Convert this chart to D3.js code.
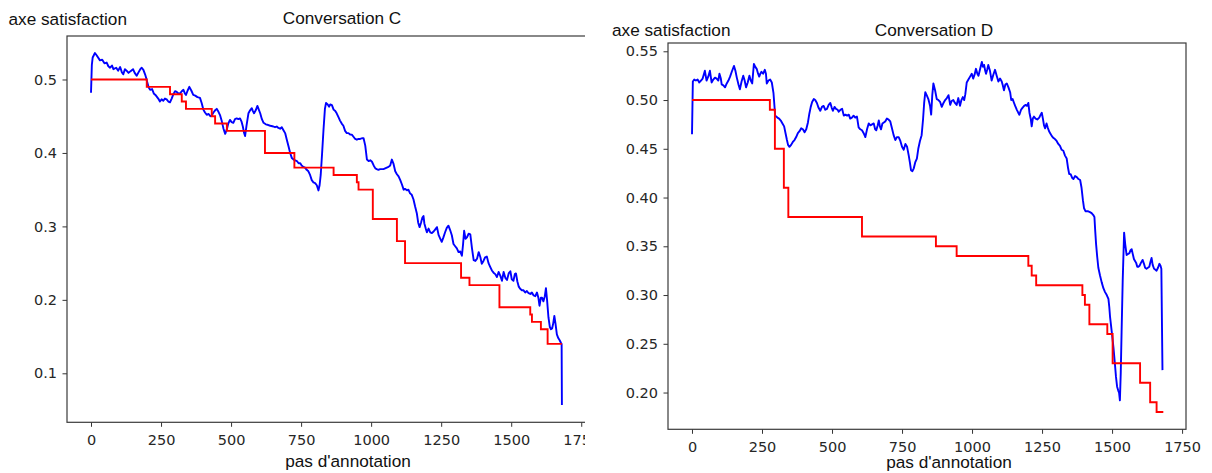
<!DOCTYPE html>
<html>
<head>
<meta charset="utf-8">
<script src="https://cdn.jsdelivr.net/npm/d3@7"></script>
<style>
  html, body { margin: 0; padding: 0; background: #fff; }
  svg { display: block; }
</style>
</head>
<body>
<svg id="chart" width="1212" height="473"></svg>
<script>
// ---------- data ----------
const xTickValues = [0, 250, 500, 750, 1000, 1250, 1500, 1750];
const yTicksC = [0.1, 0.2, 0.3, 0.4, 0.5];
const yTicksD = [0.20, 0.25, 0.30, 0.35, 0.40, 0.45, 0.50, 0.55];

const titleC = "Conversation C";
const titleD = "Conversation D";
const yLabel = "axe satisfaction";
const xLabel = "pas d'annotation";

// Conversation C - blue (satisfaction estimate)
const cBlueX = [0,3,6,14,20,32,40,48,56,62,68,75,80,90,97,104,110,115,121,127,134,140,150,156,163,170,176,181,187,193,197,201,206,211,218,224,230,234,240,246,252,258,264,270,276,282,288,294,300,306,312,318,324,330,335,339,345,351,358,365,372,380,389,395,401,407,413,420,426,431,437,443,449,455,461,467,473,479,484,490,496,502,508,514,520,526,532,537,542,546,550,555,562,568,574,578,582,588,594,600,604,610,616,624,633,640,651,657,663,669,675,681,687,693,699,705,711,717,723,729,735,741,747,752,758,764,770,776,782,788,794,800,806,812,816,820,825,830,835,839,845,850,854,860,866,872,877,883,889,895,901,907,913,919,925,931,937,943,949,955,961,967,973,979,985,991,997,1003,1009,1015,1020,1026,1032,1038,1044,1050,1056,1062,1068,1074,1080,1086,1092,1098,1104,1110,1116,1122,1128,1133,1139,1145,1151,1157,1163,1168,1173,1178,1183,1187,1190,1195,1199,1205,1211,1217,1223,1229,1235,1241,1247,1252,1258,1264,1270,1276,1282,1288,1294,1300,1306,1312,1318,1324,1328,1332,1337,1342,1348,1354,1360,1366,1372,1378,1384,1390,1395,1401,1407,1413,1419,1425,1431,1437,1443,1449,1455,1461,1467,1473,1479,1485,1491,1497,1502,1508,1513,1517,1522,1527,1532,1538,1544,1550,1556,1562,1568,1574,1580,1586,1592,1597,1601,1606,1610,1615,1620,1624,1628,1633,1638,1642,1646,1650,1654,1658,1663,1668,1673,1677,1680,1681];
const cBlueY = [0.482,0.520,0.530,0.536,0.533,0.526,0.527,0.522,0.523,0.518,0.516,0.519,0.514,0.516,0.512,0.517,0.510,0.507,0.514,0.512,0.509,0.511,0.514,0.509,0.505,0.510,0.514,0.516,0.513,0.507,0.502,0.496,0.489,0.486,0.487,0.481,0.479,0.477,0.474,0.470,0.473,0.471,0.474,0.473,0.470,0.469,0.474,0.480,0.484,0.483,0.481,0.481,0.484,0.486,0.481,0.479,0.485,0.490,0.485,0.479,0.478,0.476,0.475,0.468,0.459,0.455,0.452,0.453,0.450,0.451,0.455,0.458,0.460,0.456,0.451,0.443,0.433,0.426,0.431,0.440,0.445,0.442,0.441,0.446,0.447,0.446,0.447,0.443,0.436,0.428,0.423,0.437,0.454,0.458,0.461,0.457,0.454,0.458,0.464,0.458,0.454,0.446,0.441,0.439,0.438,0.437,0.436,0.435,0.436,0.434,0.433,0.435,0.431,0.427,0.418,0.409,0.400,0.393,0.391,0.390,0.389,0.386,0.386,0.383,0.381,0.380,0.377,0.375,0.370,0.363,0.360,0.359,0.356,0.349,0.356,0.370,0.400,0.432,0.460,0.468,0.466,0.463,0.466,0.465,0.459,0.457,0.454,0.449,0.444,0.440,0.437,0.430,0.427,0.427,0.425,0.425,0.422,0.419,0.418,0.419,0.419,0.420,0.420,0.410,0.391,0.389,0.390,0.388,0.383,0.379,0.378,0.377,0.378,0.378,0.378,0.379,0.380,0.381,0.383,0.391,0.385,0.375,0.371,0.368,0.363,0.357,0.350,0.351,0.349,0.350,0.345,0.343,0.337,0.327,0.318,0.305,0.299,0.305,0.312,0.314,0.304,0.297,0.292,0.297,0.292,0.291,0.293,0.296,0.299,0.288,0.283,0.279,0.285,0.292,0.298,0.301,0.295,0.288,0.276,0.273,0.270,0.265,0.266,0.260,0.275,0.294,0.283,0.285,0.290,0.289,0.270,0.254,0.253,0.256,0.265,0.258,0.249,0.253,0.258,0.259,0.250,0.245,0.240,0.237,0.235,0.231,0.238,0.233,0.226,0.238,0.230,0.227,0.236,0.239,0.228,0.226,0.235,0.236,0.225,0.218,0.215,0.213,0.213,0.210,0.212,0.209,0.208,0.210,0.206,0.205,0.210,0.203,0.192,0.203,0.203,0.198,0.205,0.216,0.200,0.176,0.163,0.160,0.161,0.168,0.178,0.168,0.153,0.148,0.145,0.142,0.140,0.057];

// Conversation C - red (annotated steps)
const cRedX = [0,199,282,324,339,431,443,485,621,726,866,949,955,1006,1092,1121,1321,1351,1458,1568,1574,1606,1630,1681];
const cRedY = [0.50,0.49,0.48,0.47,0.46,0.45,0.44,0.43,0.40,0.38,0.37,0.36,0.35,0.31,0.28,0.25,0.23,0.22,0.19,0.18,0.17,0.16,0.14,0.14];

// Conversation D - blue
const dBlueX = [0,3,8,14,20,26,32,38,46,52,58,64,70,76,82,88,94,98,103,106,112,118,124,130,136,142,150,155,160,166,171,177,183,188,193,199,205,210,215,221,226,231,236,240,244,248,254,260,264,267,273,279,285,291,297,305,311,317,323,329,334,339,343,348,354,360,366,372,378,384,390,396,402,408,414,419,424,429,435,440,446,452,458,464,470,476,482,488,494,499,503,509,514,520,524,530,536,542,548,554,560,565,571,577,583,589,595,601,607,613,619,625,631,637,643,649,654,658,663,667,671,675,680,685,690,696,702,708,714,720,726,732,738,744,750,756,762,768,774,778,782,787,792,797,803,808,814,820,825,829,833,838,844,850,854,858,862,868,874,880,886,892,898,904,910,916,922,927,933,939,945,951,957,962,967,972,976,981,987,993,999,1004,1009,1014,1019,1023,1029,1035,1039,1043,1047,1050,1054,1058,1064,1070,1076,1082,1088,1094,1100,1106,1110,1114,1119,1124,1130,1136,1140,1145,1150,1154,1160,1165,1169,1175,1180,1186,1192,1196,1201,1205,1210,1213,1217,1221,1227,1233,1240,1245,1249,1253,1257,1261,1266,1270,1275,1279,1285,1291,1296,1302,1308,1314,1320,1326,1332,1338,1343,1347,1352,1358,1362,1368,1374,1380,1386,1391,1396,1400,1405,1413,1421,1427,1433,1437,1440,1443,1447,1451,1457,1463,1469,1475,1481,1487,1490,1493,1499,1505,1510,1514,1518,1522,1525,1528,1531,1534,1538,1543,1547,1552,1557,1562,1566,1570,1574,1578,1582,1586,1590,1594,1598,1603,1609,1614,1618,1623,1628,1633,1637,1641,1645,1650,1655,1659,1664,1669,1673,1676,1680];
const dBlueY = [0.465,0.519,0.521,0.520,0.521,0.518,0.520,0.522,0.530,0.520,0.524,0.530,0.518,0.521,0.523,0.522,0.520,0.527,0.522,0.516,0.515,0.513,0.517,0.520,0.524,0.529,0.535,0.530,0.523,0.516,0.511,0.519,0.525,0.520,0.513,0.518,0.525,0.520,0.517,0.537,0.534,0.532,0.527,0.524,0.527,0.529,0.527,0.531,0.527,0.517,0.520,0.521,0.518,0.507,0.484,0.482,0.481,0.479,0.476,0.473,0.466,0.459,0.454,0.452,0.454,0.457,0.459,0.462,0.466,0.468,0.471,0.470,0.467,0.470,0.477,0.486,0.493,0.498,0.501,0.500,0.497,0.492,0.489,0.493,0.494,0.490,0.491,0.495,0.497,0.492,0.489,0.493,0.491,0.490,0.488,0.490,0.491,0.484,0.485,0.484,0.485,0.481,0.482,0.484,0.482,0.483,0.472,0.470,0.469,0.466,0.462,0.470,0.476,0.474,0.475,0.476,0.470,0.469,0.474,0.479,0.473,0.470,0.476,0.477,0.478,0.481,0.480,0.478,0.471,0.464,0.459,0.462,0.462,0.458,0.452,0.449,0.455,0.452,0.443,0.436,0.428,0.427,0.430,0.436,0.440,0.450,0.458,0.464,0.480,0.497,0.508,0.505,0.501,0.494,0.485,0.505,0.517,0.510,0.501,0.500,0.498,0.493,0.497,0.500,0.502,0.505,0.495,0.499,0.500,0.497,0.495,0.502,0.494,0.500,0.503,0.500,0.506,0.518,0.521,0.524,0.527,0.522,0.526,0.532,0.527,0.525,0.532,0.539,0.534,0.536,0.530,0.527,0.531,0.536,0.530,0.520,0.526,0.531,0.525,0.519,0.522,0.519,0.515,0.510,0.516,0.517,0.513,0.508,0.500,0.501,0.497,0.494,0.490,0.487,0.485,0.490,0.492,0.494,0.495,0.494,0.497,0.487,0.480,0.473,0.481,0.483,0.481,0.480,0.482,0.485,0.487,0.481,0.474,0.471,0.476,0.472,0.468,0.466,0.463,0.461,0.460,0.458,0.455,0.453,0.449,0.448,0.443,0.440,0.430,0.424,0.424,0.420,0.419,0.422,0.421,0.419,0.418,0.410,0.397,0.389,0.386,0.386,0.385,0.384,0.382,0.380,0.365,0.352,0.339,0.328,0.320,0.313,0.307,0.303,0.300,0.296,0.288,0.277,0.262,0.246,0.230,0.216,0.206,0.202,0.200,0.192,0.220,0.262,0.315,0.364,0.352,0.341,0.342,0.343,0.346,0.347,0.342,0.337,0.335,0.333,0.329,0.329,0.330,0.333,0.336,0.332,0.328,0.327,0.328,0.329,0.334,0.338,0.331,0.327,0.326,0.325,0.328,0.332,0.330,0.327,0.223];

// Conversation D - red
const dRedX = [0,278,296,328,344,607,871,945,1201,1213,1229,1394,1403,1419,1483,1502,1600,1636,1659,1683];
const dRedY = [0.50,0.49,0.45,0.41,0.38,0.36,0.35,0.34,0.33,0.32,0.31,0.30,0.29,0.27,0.26,0.23,0.21,0.19,0.18,0.18];

// ---------- drawing ----------
const svg = d3.select("#chart");
const tickFont = "'DejaVu Sans', sans-serif";
const labelFont = "'Liberation Sans', Arial, sans-serif";

function panel(opts) {
  const g = svg.append("g");
  if (opts.clipRight) {
    svg.append("defs").append("clipPath").attr("id", opts.id + "-clip")
      .append("rect").attr("x", 0).attr("y", 0).attr("width", opts.clipRight).attr("height", 473);
    g.attr("clip-path", `url(#${opts.id}-clip)`);
  }
  const x = d3.scaleLinear().domain(opts.xDomain).range([opts.left, opts.right]);
  const y = d3.scaleLinear().domain(opts.yDomain).range([opts.bottom, opts.top]);

  // lines
  const blue = opts.blueX.map((v, i) => [v, opts.blueY[i]]);
  const red = opts.redX.map((v, i) => [v, opts.redY[i]]);
  g.append("path").datum(blue)
    .attr("d", d3.line().x(d => x(d[0])).y(d => y(d[1])))
    .attr("fill", "none").attr("stroke", "#0000ff").attr("stroke-width", 1.9)
    .attr("stroke-linejoin", "round");
  g.append("path").datum(red)
    .attr("d", d3.line().curve(d3.curveStepAfter).x(d => x(d[0])).y(d => y(d[1])))
    .attr("fill", "none").attr("stroke", "#ff0000").attr("stroke-width", 1.9);

  // axes
  const xAxis = d3.axisBottom(x).tickValues(xTickValues).tickFormat(d3.format("d"))
    .tickSize(4.5).tickSizeOuter(0).tickPadding(7.5);
  const yAxis = d3.axisLeft(y).tickValues(opts.yTicks).tickFormat(d3.format(opts.yFmt))
    .tickSize(4.5).tickSizeOuter(0).tickPadding(5.5);
  const gx = g.append("g").attr("transform", `translate(0,${opts.bottom})`).call(xAxis);
  const gy = g.append("g").attr("transform", `translate(${opts.left},0)`).call(yAxis);
  [gx, gy].forEach(a => {
    a.select(".domain").remove();
    a.selectAll(".tick line").attr("stroke", "#333").attr("stroke-width", 1);
    a.selectAll(".tick text").attr("fill", "#262626")
      .style("font-family", tickFont).style("font-size", "14.5px");
  });

  // spines (box)
  g.append("rect").attr("x", opts.left).attr("y", opts.top)
    .attr("width", opts.right - opts.left).attr("height", opts.bottom - opts.top)
    .attr("fill", "none").attr("stroke", "#3a3a3a").attr("stroke-width", 1.2);

  // texts
  g.append("text").attr("x", opts.titleX).attr("y", opts.titleY).attr("text-anchor", "middle")
    .style("font-family", labelFont).style("font-size", "17.2px").attr("fill", "#111").text(opts.title);
  g.append("text").attr("x", opts.yLabelX).attr("y", opts.yLabelY).attr("text-anchor", "start")
    .style("font-family", labelFont).style("font-size", "17.2px").attr("fill", "#111").text(yLabel);
  g.append("text").attr("x", opts.xLabelX).attr("y", opts.xLabelY).attr("text-anchor", "middle")
    .style("font-family", labelFont).style("font-size", "17.2px").attr("fill", "#111").text(xLabel);
}

panel({
  id: "c", left: 67, right: 586, top: 36, bottom: 422.3,
  xDomain: [-85.7, 1767], yDomain: [0.0333, 0.5592],
  yTicks: yTicksC, yFmt: ".1f",
  blueX: cBlueX, blueY: cBlueY, redX: cRedX, redY: cRedY,
  title: titleC, titleX: 342, titleY: 24,
  yLabelX: 8.5, yLabelY: 25,
  xLabelX: 348, xLabelY: 467,
  clipRight: 585
});

panel({
  id: "d", left: 668, right: 1186, top: 43, bottom: 429.3,
  xDomain: [-85.7, 1764], yDomain: [0.1623, 0.5585],
  yTicks: yTicksD, yFmt: ".2f",
  blueX: dBlueX, blueY: dBlueY, redX: dRedX, redY: dRedY,
  title: titleD, titleX: 934, titleY: 36,
  yLabelX: 612, yLabelY: 36,
  xLabelX: 949, xLabelY: 468
});
</script>
</body>
</html>
